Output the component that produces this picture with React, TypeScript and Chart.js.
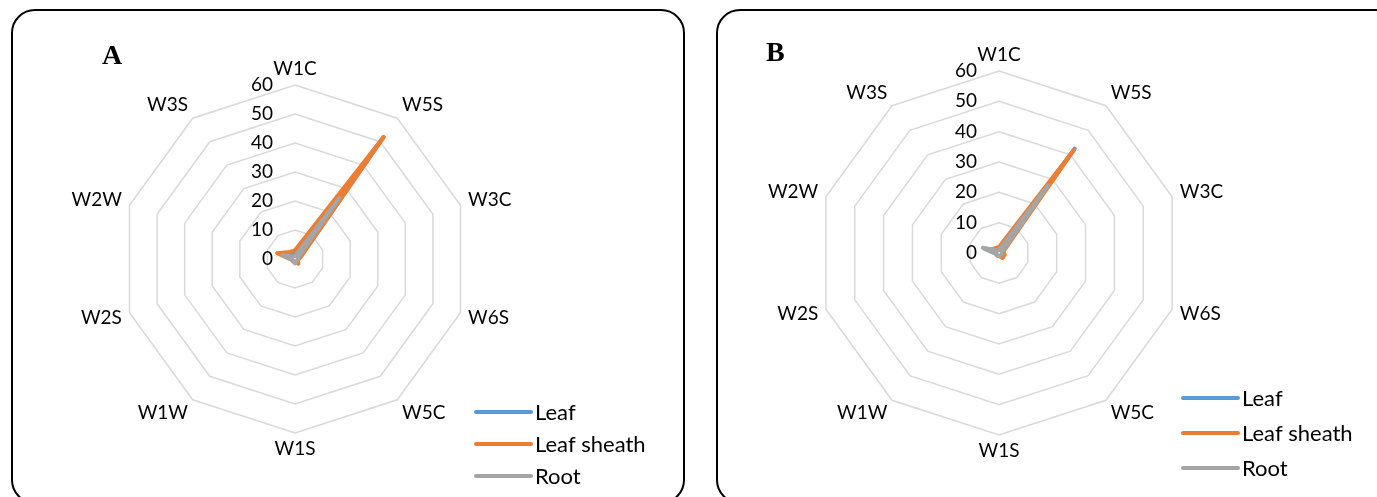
import React, { useEffect, useRef } from "react";
import { Chart, registerables } from "chart.js";

Chart.register(...registerables);

// ---------- data ----------
const categories = ["W1C", "W5S", "W3C", "W6S", "W5C", "W1S", "W1W", "W2S", "W2W", "W3S"];
const seriesNames = ["Leaf", "Leaf sheath", "Root"];
const seriesColors = ["#5B9BD5", "#ED7D31", "#A5A5A5"];
const tickValues = [0, 10, 20, 30, 40, 50, 60];

const leafA = [2, 52, 2, 1, 1, 1, 1, 1, 5, 2];
const sheathA = [3, 52, 2, 1, 2, 1, 1, 1, 6.5, 3];
const rootA = [1, 26, 1, 1, 1, 1.5, 1, 1, 4.5, 1];

const leafB = [1, 42.5, 1, 1, 1, 1, 1, 1, 5.5, 1];
const sheathB = [2, 42, 1.5, 2, 2, 1, 1, 1, 3, 2];
const rootB = [1, 27.5, 1, 1, 1, 1, 1, 1, 5.5, 1];

const FONT = "Lato, 'Open Sans', sans-serif";

type PanelProps = {
  letter: string;
  letterPos: { x: number; y: number };
  series: number[][];
  left: number;
  width: number;
  padding: { left: number; right: number; top: number; bottom: number };
  legend: { x: number; y: number; dy: number };
  labelGap: number;
};

function RadarPanel(p: PanelProps) {
  const ref = useRef<HTMLCanvasElement | null>(null);
  useEffect(() => {
    if (!ref.current) return;
    const overlay = {
      id: "overlay",
      afterDraw(chart: any) {
        const ctx = chart.ctx;
        const scale = chart.scales.r;
        ctx.save();
        // tick labels
        ctx.fillStyle = "#000";
        ctx.font = `19px ${FONT}`;
        ctx.textAlign = "right";
        ctx.textBaseline = "middle";
        tickValues.forEach((v) => {
          const y = scale.yCenter - scale.getDistanceFromCenterForValue(v);
          ctx.fillText(String(v), scale.xCenter - 22, y);
        });
        // point labels
        ctx.textAlign = "center";
        const R = scale.drawingArea;
        categories.forEach((c, i) => {
          const ang = (i * 2 * Math.PI) / categories.length;
          const s = Math.sin(ang);
          const co = Math.cos(ang);
          const pos = scale.getPointPosition(i, R + p.labelGap);
          const w = ctx.measureText(c).width;
          const sx = Math.abs(s) < 0.05 ? 0 : Math.sign(s);
          const x = pos.x + sx * (w / 2);
          const y = pos.y - co * 8;
          ctx.fillText(c, x, y);
        });
        // legend
        seriesNames.forEach((n, i) => {
          const y = p.legend.y + i * p.legend.dy;
          ctx.strokeStyle = seriesColors[i];
          ctx.lineWidth = 4;
          ctx.lineCap = "round";
          ctx.beginPath();
          ctx.moveTo(p.legend.x, y);
          ctx.lineTo(p.legend.x + 55, y);
          ctx.stroke();
          ctx.fillStyle = "#000";
          ctx.font = `22px ${FONT}`;
          ctx.textAlign = "left";
          ctx.textBaseline = "middle";
          ctx.fillText(n, p.legend.x + 59, y + 1);
        });
        // panel letter
        ctx.font = "bold 28px 'Liberation Serif', 'Times New Roman', serif";
        ctx.textAlign = "left";
        ctx.textBaseline = "alphabetic";
        ctx.fillText(p.letter, p.letterPos.x, p.letterPos.y);
        ctx.restore();
      },
    };
    const chart = new Chart(ref.current, {
      type: "radar",
      data: {
        labels: categories,
        datasets: seriesNames.map((n, i) => ({
          label: n,
          data: p.series[i],
          borderColor: seriesColors[i],
          backgroundColor: "transparent",
          borderWidth: 4,
          borderJoinStyle: "round" as const,
          borderCapStyle: "round" as const,
          pointRadius: 0,
          fill: false,
          order: 2 - i,
        })),
      },
      options: {
        responsive: false,
        maintainAspectRatio: false,
        animation: false,
        layout: { padding: p.padding },
        plugins: { legend: { display: false }, tooltip: { enabled: false } },
        scales: {
          r: {
            min: 0,
            max: 60,
            ticks: { stepSize: 10, display: false },
            grid: { color: "#D9D9D9", lineWidth: 1.5 },
            angleLines: { display: false },
            pointLabels: { display: false },
          },
        },
      },
      plugins: [overlay],
    });
    return () => chart.destroy();
  }, []);
  return (
    <canvas
      ref={ref}
      width={p.width}
      height={497}
      style={{ position: "absolute", left: p.left, top: 0, width: p.width, height: 497 }}
    />
  );
}

export default function App() {
  useEffect(() => {
    document.body.style.margin = "0";
  }, []);
  const box = (left: number, width: number): React.CSSProperties => ({
    position: "absolute",
    left,
    top: 9,
    width,
    height: 495,
    border: "2px solid #000",
    borderRadius: 24,
    boxSizing: "border-box",
  });
  return (
    <div style={{ position: "relative", width: 1377, height: 497, overflow: "hidden", background: "#fff" }}>
      <div style={box(11, 674)} />
      <div style={box(716, 700)} />
      <RadarPanel
        letter="A"
        letterPos={{ x: 102, y: 64 }}
        series={[leafA, sheathA, rootA]}
        left={0}
        width={690}
        padding={{ left: 121, right: 221, top: 85, bottom: 64 }}
        legend={{ x: 476, y: 412, dy: 32 }}
        labelGap={8}
      />
      <RadarPanel
        letter="B"
        letterPos={{ x: 76, y: 61 }}
        series={[leafB, sheathB, rootB]}
        left={690}
        width={687}
        padding={{ left: 127, right: 196, top: 71, bottom: 62 }}
        legend={{ x: 493, y: 398, dy: 35 }}
        labelGap={8}
      />
    </div>
  );
}
